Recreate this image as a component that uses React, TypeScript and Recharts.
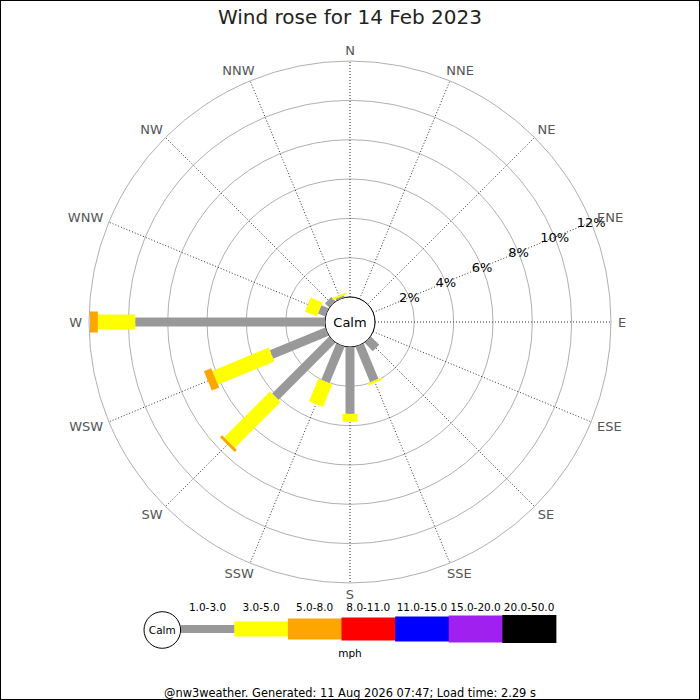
import React from 'react';
import {
  RadialBarChart,
  RadialBar,
  PolarGrid,
  PolarAngleAxis,
  PolarRadiusAxis,
  Legend,
} from 'recharts';

const DIRECTIONS = ['N', 'NNE', 'NE', 'ENE', 'E', 'ESE', 'SE', 'SSE', 'S', 'SSW', 'SW', 'WSW', 'W', 'WNW', 'NW', 'NNW'];
const SPEED_BINS = ['1.0-3.0', '3.0-5.0', '5.0-8.0', '8.0-11.0', '11.0-15.0', '15.0-20.0', '20.0-50.0'];
const BIN_COLORS = ['#999999', '#ffff00', '#ffa500', '#ff0000', '#0000ff', '#a020f0', '#000000'];
const BIN_WIDTHS = [9, 15, 21, 23, 25, 27, 28];
const PCT_TICKS = [0, 2, 4, 6, 8, 10, 12];

// percentage of time per direction, per speed bin (mph)
const SPEED_1_3 = [0, 0, 0, 0, 0, 0, 0.6, 1.95, 3.4, 2.0, 4.1, 3.05, 9.65, 0.4, 0.3, 0.1];
const SPEED_3_5 = [0, 0, 0, 0, 0, 0, 0, 0.12, 0.4, 1.25, 3.3, 3.1, 1.9, 0.65, 0, 0.1];
const SPEED_5_8 = [0, 0, 0, 0, 0, 0, 0, 0, 0, 0, 0.15, 0.4, 0.4, 0, 0, 0];
const SPEED_8_11 = [0, 0, 0, 0, 0, 0, 0, 0, 0, 0, 0, 0, 0, 0, 0, 0];
const SPEED_11_15 = [0, 0, 0, 0, 0, 0, 0, 0, 0, 0, 0, 0, 0, 0, 0, 0];
const SPEED_15_20 = [0, 0, 0, 0, 0, 0, 0, 0, 0, 0, 0, 0, 0, 0, 0, 0];
const SPEED_20_50 = [0, 0, 0, 0, 0, 0, 0, 0, 0, 0, 0, 0, 0, 0, 0, 0];

const SERIES = [SPEED_1_3, SPEED_3_5, SPEED_5_8, SPEED_8_11, SPEED_11_15, SPEED_15_20, SPEED_20_50];
const KEYS = ['b0', 'b1', 'b2', 'b3', 'b4', 'b5', 'b6'];

const data = DIRECTIONS.map((dir, i) => {
  const row: any = { dir };
  KEYS.forEach((k, j) => {
    row[k] = SERIES[j][i];
  });
  return row;
});

const CX = 350;
const CY = 322;
const INNER = 25;
const OUTER = 261;
const RAD = Math.PI / 180;
const FONT = '"DejaVu Sans", sans-serif';
const STEP = 360 / DIRECTIONS.length;
const START = 90 - STEP / 2;
const LABEL_SIZE = 13;
const CHAR_EM: Record<string, number> = { N: 0.748, E: 0.632, S: 0.635, W: 0.989 };

const makeShape = (width: number) => (props: any) => {
  const { cx, cy, innerRadius, outerRadius, startAngle, endAngle, fill } = props;
  const r0 = Math.min(innerRadius, outerRadius);
  const r1 = Math.max(innerRadius, outerRadius);
  if (!(r1 - r0 > 0.05)) return <g />;
  const mid = ((startAngle + endAngle) / 2) * RAD;
  const ux = Math.cos(-mid);
  const uy = Math.sin(-mid);
  const px = -uy;
  const py = ux;
  const h = width / 2;
  const pts = [
    [cx + ux * r0 + px * h, cy + uy * r0 + py * h],
    [cx + ux * r1 + px * h, cy + uy * r1 + py * h],
    [cx + ux * r1 - px * h, cy + uy * r1 - py * h],
    [cx + ux * r0 - px * h, cy + uy * r0 - py * h],
  ]
    .map((p) => p.join(','))
    .join(' ');
  return <polygon points={pts} fill={fill} stroke="none" />;
};

const AngleTick = (props: any) => {
  const { payload } = props;
  const label = String(payload.value);
  // tick coordinate is the band edge; centre it on the band
  const a = (payload.coordinate + STEP / 2) * RAD;
  const cos = Math.cos(a);
  const sin = Math.sin(a);
  const halfW = (label.split('').reduce((s, ch) => s + (CHAR_EM[ch] || 0.65), 0) * LABEL_SIZE) / 2;
  const shift = Math.sign(Math.round(cos * 1000)) * Math.sqrt(Math.abs(cos)) * Math.max(0, halfW - 4);
  const x = CX + 272 * cos + shift;
  const y = CY - 272 * sin;
  return (
    <text x={x} y={y} textAnchor="middle" dominantBaseline="central" fontSize={LABEL_SIZE} fill="#555" fontFamily={FONT}>
      {label}
    </text>
  );
};

const RadiusTick = (props: any) => {
  const { x, y, payload } = props;
  if (payload.value === 0) return <g />;
  return (
    <text x={x} y={y} textAnchor="middle" dominantBaseline="central" fontSize={13} fill="#000" fontFamily={FONT}>
      {`${payload.value}%`}
    </text>
  );
};

const LegendContent = () => {
  const segLen = 53.6;
  const x0 = 180.7;
  const midY = 34;
  return (
    <svg width={700} height={70} style={{ display: 'block' }}>
      {SPEED_BINS.map((name, i) => {
        const w = BIN_WIDTHS[i] - (i === 0 ? 1 : 0);
        return (
          <g key={name}>
            <rect x={x0 + i * segLen} y={midY - w / 2} width={segLen + 0.5} height={w} fill={BIN_COLORS[i]} />
            <text
              x={x0 + i * segLen + segLen / 2}
              y={12}
              textAnchor="middle"
              dominantBaseline="central"
              fontSize={10.5}
              fill="#000"
              fontFamily={FONT}
            >
              {name}
            </text>
          </g>
        );
      })}
      <circle cx={162.3} cy={35} r={18.3} fill="#fff" stroke="#000" strokeWidth={1} />
      <text x={162.3} y={35} textAnchor="middle" dominantBaseline="central" fontSize={10.5} fill="#000" fontFamily={FONT}>
        Calm
      </text>
      <text x={350} y={58} textAnchor="middle" dominantBaseline="central" fontSize={10.5} fill="#000" fontFamily={FONT}>
        mph
      </text>
    </svg>
  );
};

export default function App() {
  return (
    <div
      style={{
        position: 'absolute',
        left: 0,
        top: 0,
        width: 700,
        height: 700,
        background: '#fff',
        fontFamily: FONT,
        boxSizing: 'border-box',
        border: '1px solid #000',
        overflow: 'hidden',
      }}
    >
      <div style={{ position: 'absolute', left: -1, top: -1 }}>
        <RadialBarChart
          width={700}
          height={700}
          data={data}
          layout="centric"
          cx={CX}
          cy={CY}
          innerRadius={INNER}
          outerRadius={OUTER}
          startAngle={START}
          endAngle={START - 360}
          margin={{ top: 0, right: 0, bottom: 0, left: 0 }}
        >
          <PolarGrid gridType="circle" radialLines={false} stroke="#b0b0b0" strokeWidth={1} />
          <PolarGrid
            gridType="circle"
            polarRadius={[]}
            polarAngles={DIRECTIONS.map((_, i) => 90 - i * STEP)}
            stroke="#333"
            strokeWidth={1}
            strokeDasharray="1 2"
          />
          <PolarAngleAxis dataKey="dir" type="category" axisLine={false} tickLine={false} tick={AngleTick} />
          <PolarRadiusAxis
            type="number"
            domain={[0, 12]}
            ticks={PCT_TICKS}
            angle={22.5}
            axisLine={false}
            tickLine={false}
            tick={RadiusTick}
          />
          {KEYS.map((k, j) => (
            <RadialBar
              key={k}
              dataKey={k}
              name={SPEED_BINS[j]}
              stackId="speed"
              fill={BIN_COLORS[j]}
              isAnimationActive={false}
              shape={makeShape(BIN_WIDTHS[j])}
            />
          ))}
          <circle cx={CX} cy={CY} r={INNER} fill="#fff" stroke="#000" strokeWidth={1} />
          <text x={CX} y={CY} textAnchor="middle" dominantBaseline="central" fontSize={13} fill="#000" fontFamily={FONT}>
            Calm
          </text>
          <text x={350} y={24} textAnchor="middle" fontSize={20} fill="#222" fontFamily={FONT}>
            Wind rose for 14 Feb 2023
          </text>
          <text x={350} y={697} textAnchor="middle" fontSize={11.4} fill="#000" fontFamily={FONT}>
            @nw3weather. Generated: 11 Aug 2026 07:47; Load time: 2.29 s
          </text>
          <Legend
            content={LegendContent}
            wrapperStyle={{ position: 'absolute', left: 0, top: 595, width: 700, height: 70 }}
          />
        </RadialBarChart>
      </div>
    </div>
  );
}
